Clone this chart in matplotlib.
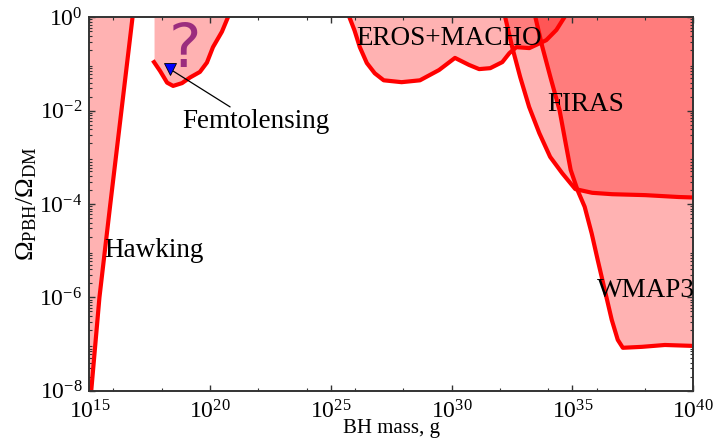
import numpy as np
import matplotlib
matplotlib.use("Agg")
import matplotlib.pyplot as plt
from matplotlib.ticker import LogLocator, FixedLocator, NullFormatter

plt.rcParams['font.family'] = ['Liberation Serif', 'DejaVu Serif']
plt.rcParams['mathtext.fontset'] = 'custom'
plt.rcParams['mathtext.rm'] = 'Liberation Serif'
plt.rcParams['mathtext.it'] = 'Liberation Serif:italic'
plt.rcParams['mathtext.bf'] = 'Liberation Serif:bold'
plt.rcParams['mathtext.default'] = 'regular'

# ---- data (log10 of mass in g, log10 of Omega_PBH/Omega_DM) ----
hawk_logm = [15.08, 15.42, 15.87, 16.33, 16.79]
hawk_logo = [-8.0, -6.0, -4.0, -2.0, 0.0]

femto_logm = [17.68, 17.93, 18.22, 18.47, 18.84, 19.17, 19.58, 19.87, 20.12, 20.49, 20.74]
femto_logo = [-0.96, -1.15, -1.40, -1.47, -1.41, -1.29, -1.17, -0.97, -0.64, -0.31, 0.0]

eros_logm = [25.77, 25.98, 26.20, 26.49, 26.82, 27.19, 27.93, 28.69, 29.48, 30.14, 30.72, 31.14, 31.60,
             32.10, 32.39, 32.68, 33.22, 33.92, 34.34, 34.67]
eros_logo = [0.0, -0.28, -0.64, -0.98, -1.20, -1.35, -1.39, -1.35, -1.13, -0.87, -1.02, -1.11, -1.09,
             -0.96, -0.77, -0.64, -0.66, -0.49, -0.27, 0.0]

firas_logm = [32.22, 32.51, 32.84, 33.21, 33.63, 34.08, 34.58, 35.12, 35.82, 36.65, 38.02, 39.39, 40.0]
firas_logo = [0.0, -0.64, -1.28, -1.92, -2.48, -2.99, -3.34, -3.68, -3.76, -3.79, -3.81, -3.85, -3.86]

wmap_logm = [33.47, 33.76, 34.09, 34.47, 34.72, 34.93, 35.22, 35.51, 35.80, 36.05, 36.34, 36.63, 36.88,
             37.09, 37.88, 38.83, 40.0]
wmap_logo = [0.0, -0.64, -1.28, -1.99, -2.69, -3.27, -3.71, -4.06, -4.63, -5.20, -5.84, -6.48, -6.91,
             -7.08, -7.06, -7.02, -7.04]

femto_marker = (18.34, -1.11)
femto_arrow_start = (20.83, -1.92)

labels = {
    'Hawking': (17.66, -5.13),
    'Femtolensing': (21.90, -2.37),
    'EROS+MACHO': (29.88, -0.60),
    'FIRAS': (35.55, -2.01),
    'WMAP3': (38.03, -5.99),
}
question_pos = (18.97, -1.07)

xticks_major = [15, 20, 25, 30, 35, 40]
xticks_minor = [16, 18, 22, 24, 26, 28, 32, 34, 36, 38]
yticks_major = [-8, -6, -4, -2, 0]

# ---- plotting ----
fig = plt.figure(figsize=(7.15, 4.41), dpi=100)
ax = fig.add_axes([0.1249, 0.114, 0.8445, 0.8468])
ax.set_xscale('log')
ax.set_yscale('log')
ax.set_xlim(1e15, 1e40)
ax.set_ylim(1e-8, 1e0)

p = lambda a: 10.0 ** np.asarray(a, dtype=float)
fillc = 'red'
alpha = 0.3
lw = 3.0

# Hawking
ax.fill_betweenx(p(hawk_logo), 1e15, p(hawk_logm), color=fillc, alpha=alpha, lw=0)
ax.plot(p(hawk_logm), p(hawk_logo), color='red', lw=lw, solid_capstyle='butt')

# Femtolensing
ax.fill_between(p(femto_logm), p(femto_logo), 1.0, color=fillc, alpha=alpha, lw=0)
ax.plot(p(femto_logm), p(femto_logo), color='red', lw=lw)

# EROS+MACHO
ax.fill_between(p(eros_logm), p(eros_logo), 1.0, color=fillc, alpha=alpha, lw=0)
ax.plot(p(eros_logm), p(eros_logo), color='red', lw=lw)

# FIRAS
fx = list(firas_logm) + [40.0, firas_logm[0]]
fy = list(firas_logo) + [0.0, 0.0]
ax.fill(p(fx), p(fy), color=fillc, alpha=alpha, lw=0)
ax.plot(p(firas_logm), p(firas_logo), color='red', lw=lw)

# WMAP3
wx = list(wmap_logm) + [40.0, wmap_logm[0]]
wy = list(wmap_logo) + [0.0, 0.0]
ax.fill(p(wx), p(wy), color=fillc, alpha=alpha, lw=0)
ax.plot(p(wmap_logm), p(wmap_logo), color='red', lw=lw)

# Femtolensing annotation
ax.annotate('', xy=p(femto_marker), xytext=p(femto_arrow_start),
            arrowprops=dict(arrowstyle='-', color='black', lw=0.9, shrinkA=0, shrinkB=0))
ax.plot([p(femto_marker[0])], [p(femto_marker[1])], marker='v', color='blue',
        mec='black', mew=0.6, ms=9, zorder=5)

fs = 19.5
for name, (lx, ly) in labels.items():
    ax.text(p(lx), p(ly), name, fontsize=fs, ha='center', va='baseline', zorder=6)

ax.text(p(question_pos[0]), p(question_pos[1]), '?', fontsize=44, ha='center',
        va='baseline', color='#9b2d7e', family='DejaVu Sans', zorder=6)

# ticks
ax.xaxis.set_major_locator(FixedLocator(p(xticks_major)))
ax.xaxis.set_minor_locator(FixedLocator(p(xticks_minor)))
ax.xaxis.set_minor_formatter(NullFormatter())
ax.set_xticklabels([r'$10^{%d}$' % e for e in xticks_major])
ax.yaxis.set_major_locator(FixedLocator(p(yticks_major)))
ax.set_yticklabels([r'$10^{%d}$' % e for e in yticks_major])
ax.yaxis.set_minor_locator(LogLocator(base=10, subs=np.arange(2, 10), numticks=100))
ax.yaxis.set_minor_formatter(NullFormatter())

ax.tick_params(which='both', direction='in', top=True, right=True, labelsize=17, color='#333333')
ax.tick_params(which='major', length=4, width=1)
ax.tick_params(which='minor', length=2, width=0.8)
ax.tick_params(axis='x', pad=7)
ax.tick_params(axis='y', pad=5)
for s in ax.spines.values():
    s.set_linewidth(1.4)
    s.set_color('#333333')

ax.set_xlabel('BH mass, g', fontsize=15, labelpad=-3)
ax.set_ylabel(r'$\Omega_{\rm PBH}/\Omega_{\rm DM}$', fontsize=19, labelpad=0)

fig.savefig('out.png', dpi=100)
